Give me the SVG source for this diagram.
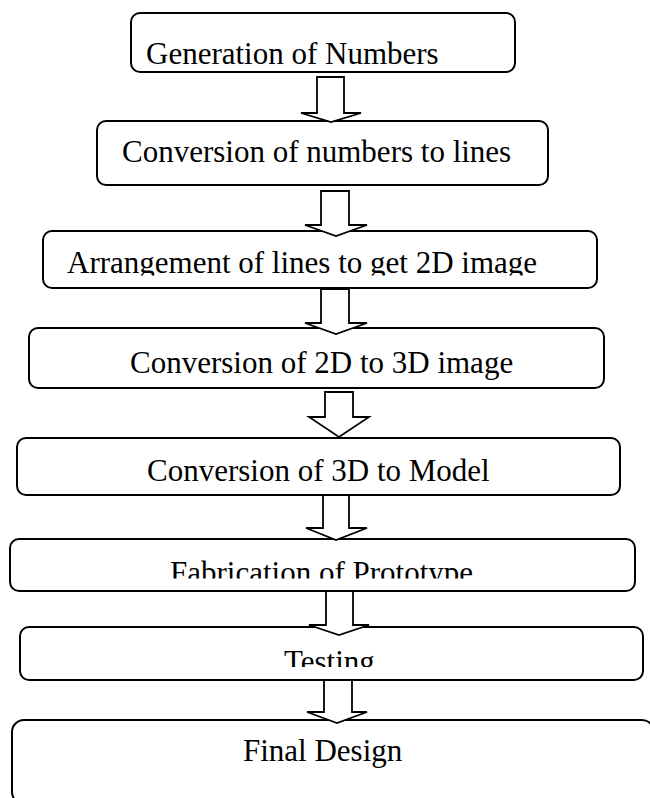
<svg xmlns="http://www.w3.org/2000/svg" width="650" height="798" viewBox="0 0 650 798">
<style>
.box{fill:#fff;stroke:#000;stroke-width:2}
.lbl{font-family:"Liberation Serif","Times New Roman",serif;font-size:31px;fill:#000}
.arr{fill:#fff;stroke:#000;stroke-width:1.8;stroke-linejoin:miter}
</style>
<defs>
<clipPath id="c3"><rect x="40" y="225" width="560" height="50.5"/></clipPath>
<clipPath id="c6"><rect x="5" y="535" width="640" height="43.5"/></clipPath>
<clipPath id="c7"><rect x="15" y="620" width="635" height="47"/></clipPath>
</defs>
<rect width="650" height="798" fill="#fff"/>
<g id="n1"><rect class="box" x="131" y="13" width="384" height="59" rx="9"/><text class="lbl" x="146" y="63.5">Generation of Numbers</text></g>
<g id="n2"><rect class="box" x="97" y="121" width="451" height="64" rx="9"/><text class="lbl" x="122" y="162">Conversion of numbers to lines</text></g>
<g id="n3"><rect class="box" x="43" y="231" width="554" height="57" rx="9"/><text class="lbl" x="67" y="273" clip-path="url(#c3)">Arrangement of lines to get 2D image</text></g>
<g id="n4"><rect class="box" x="29" y="328" width="575" height="60" rx="9"/><text class="lbl" x="130" y="372.5">Conversion of 2D to 3D image</text></g>
<g id="n5"><rect class="box" x="17" y="438" width="603" height="57" rx="9"/><text class="lbl" x="147" y="480.5">Conversion of 3D to Model</text></g>
<g id="n6"><rect class="box" x="10" y="539" width="625" height="52" rx="9"/><text class="lbl" x="170" y="582.5" clip-path="url(#c6)">Fabrication of Prototype</text></g>
<g id="n7"><rect class="box" x="20" y="627" width="623" height="53" rx="9"/><text class="lbl" x="284" y="672" clip-path="url(#c7)">Testing</text></g>
<g id="n8"><rect class="box" x="12" y="720" width="642" height="84" rx="12"/><text class="lbl" x="243" y="761">Final Design</text></g>
<g id="connectors">
<polygon class="arr" points="317,77 344,77 344,113 361,113 331,122 301,113 317,113"/>
<polygon class="arr" points="321,191 349,191 349,225 367,225 336,236 305,225 321,225"/>
<polygon class="arr" points="321,289 349,289 349,323 367,323 336,334 305,323 321,323"/>
<polygon class="arr" points="325,392 353,392 353,417 369,417 339,437 309,417 325,417"/>
<polygon class="arr" points="323,495 349,495 349,528 367,528 336,540 306,528 323,528"/>
<polygon class="arr" points="326,591 353,591 353,625 369,625 339,635 309,625 326,625"/>
<polygon class="arr" points="324,680 352,680 352,712 367,712 337,723 307,712 324,712"/>
</g>
</svg>
